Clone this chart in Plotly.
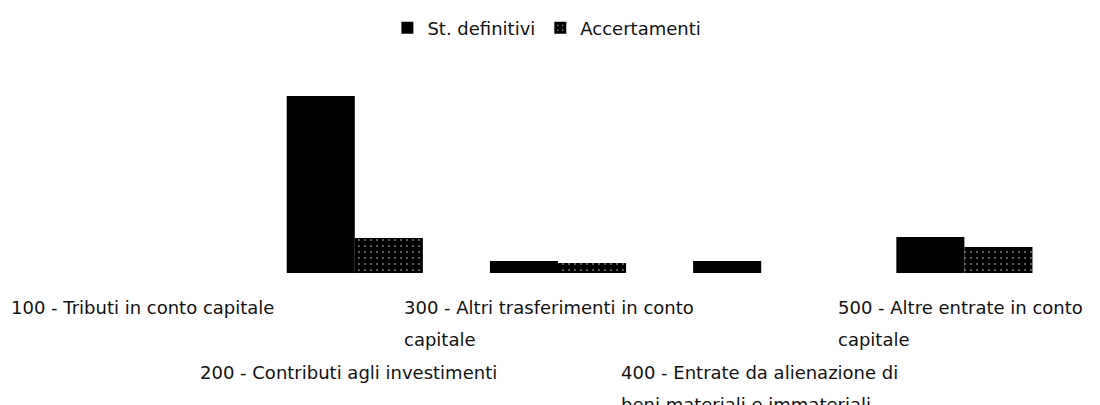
import plotly.graph_objects as go

categories = [
    "100 - Tributi in conto capitale",
    "200 - Contributi agli investimenti",
    "300 - Altri trasferimenti in conto capitale",
    "400 - Entrate da alienazione di beni materiali e immateriali",
    "500 - Altre entrate in conto capitale",
]
tick_label_lines = [
    ["100 - Tributi in conto capitale"],
    ["200 - Contributi agli investimenti"],
    ["300 - Altri trasferimenti in conto", "capitale"],
    ["400 - Entrate da alienazione di", "beni materiali e immateriali"],
    ["500 - Altre entrate in conto", "capitale"],
]
st_definitivi = [0, 177, 12, 12, 36]
accertamenti = [0, 35, 10, 0, 26]

FONT = "DejaVu Sans"
# the page body adds an 8px offset; layout values below compensate for it
OFF = 8

fig = go.Figure()
fig.add_trace(go.Bar(
    name="St. definitivi", x=categories, y=st_definitivi,
    marker=dict(color="#000000", line=dict(width=0)),
))
fig.add_trace(go.Bar(
    name="Accertamenti", x=categories, y=accertamenti,
    marker=dict(
        color="#000000", line=dict(width=0),
        pattern=dict(shape=".", fillmode="replace", bgcolor="#000000",
                     fgcolor="#dddddd", size=6, solidity=0.05),
    ),
))

annotations = []
for i, (cat, lines) in enumerate(zip(categories, tick_label_lines)):
    row = i % 2
    maxlen = max(len(s) for s in lines)
    for j, line in enumerate(lines):
        k = row * 2 + j
        annotations.append(dict(
            x=cat, y=0, xref="x", yref="y",
            text=line, showarrow=False,
            xanchor="left", yanchor="middle",
            xshift=-maxlen * 9.2 / 2, yshift=-(34 + 32.5 * k),
            font=dict(family=FONT, size=18, color="#111111"),
        ))

fig.update_layout(
    width=1100, height=405,
    margin=dict(l=50 - OFF, r=34 + OFF, t=81 - OFF, b=132 + OFF, autoexpand=False),
    paper_bgcolor="white", plot_bgcolor="white",
    barmode="group", bargap=0.33, bargroupgap=0,
    showlegend=True,
    legend=dict(
        orientation="h", x=0.5 - 12 / 1100, xanchor="center",
        yref="container", y=1 - (28 - OFF) / 405, yanchor="middle",
        font=dict(family=FONT, size=18, color="#111111"),
        itemwidth=30, traceorder="normal",
    ),
    xaxis=dict(showticklabels=False, showline=False, ticks="",
               showgrid=False, zeroline=False, automargin=False,
               range=[-0.5, len(categories) - 0.5], autorange=False),
    yaxis=dict(visible=False, range=[0, 192], autorange=False,
               showgrid=False, zeroline=False, automargin=False),
    annotations=annotations,
    font=dict(family=FONT, size=18, color="#111111"),
)

fig.write_html("out.html")
